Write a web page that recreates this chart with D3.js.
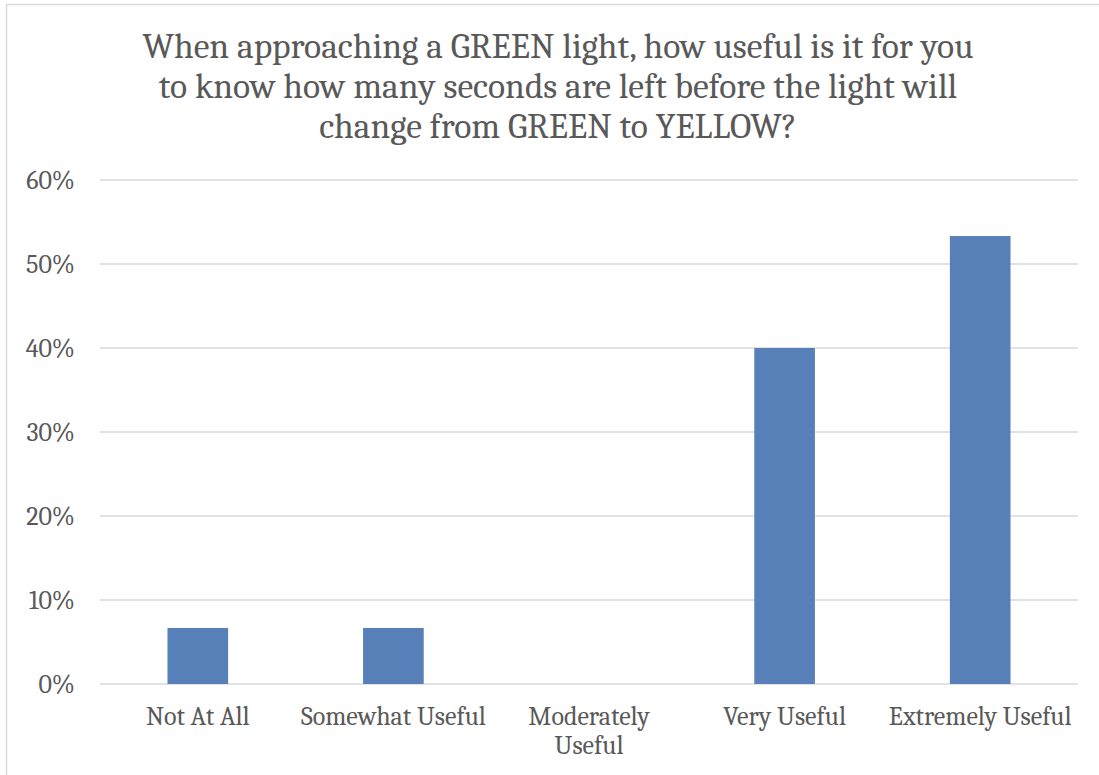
<!DOCTYPE html>
<html><head><meta charset="utf-8">
<script src="https://cdn.jsdelivr.net/npm/d3@7"></script>
<style>
html,body{margin:0;padding:0;background:#fff;}
svg{display:block;}
</style></head>
<body>
<script>
const categories = ["Not At All", "Somewhat Useful", "Moderately Useful", "Very Useful", "Extremely Useful"];
const values = [0.0667, 0.0667, 0, 0.40, 0.5333];
const yTicks = [0, 0.1, 0.2, 0.3, 0.4, 0.5, 0.6];
const titleLines = ["When approaching a GREEN light, how useful is it for you", "to know how many seconds are left before the light will", "change from GREEN to YELLOW?"];
const categoryLines = [["Not At All"], ["Somewhat Useful"], ["Moderately", "Useful"], ["Very Useful"], ["Extremely Useful"]];

const W = 1099, H = 775;
const font = "Cambria, 'Liberation Serif', 'DejaVu Serif', serif";
const textColor = "#595959";
const svg = d3.select("body").append("svg").attr("width", W).attr("height", H);

svg.append("rect").attr("x", 6.5).attr("y", 4.5).attr("width", W + 10).attr("height", H + 10)
  .attr("fill", "#fff").attr("stroke", "#d9d9d9").attr("stroke-width", 1.5);

const x = d3.scaleBand().domain(categories).range([100, 1078]).paddingInner(0.69).paddingOuter(0.345);
const y = d3.scaleLinear().domain([0, 0.6]).range([684, 180]);

svg.append("g").selectAll("line").data(yTicks).join("line")
  .attr("x1", 100).attr("x2", 1078)
  .attr("y1", d => y(d)).attr("y2", d => y(d))
  .attr("stroke", "#d9d9d9").attr("stroke-width", 1.5);

svg.append("g").selectAll("text").data(yTicks).join("text")
  .attr("x", 75).attr("y", d => y(d)).attr("dy", "0.35em")
  .attr("text-anchor", "end").attr("font-family", font).attr("font-size", 26).attr("fill", textColor)
  .text(d3.format(".0%"));

svg.append("g").selectAll("rect").data(values).join("rect")
  .attr("x", (d, i) => x(categories[i])).attr("width", x.bandwidth())
  .attr("y", d => y(d)).attr("height", d => y(0) - y(d))
  .attr("fill", "#5880B8");

const xl = svg.append("g").selectAll("text").data(categories).join("text")
  .attr("x", d => x(d) + x.bandwidth() / 2).attr("y", 725)
  .attr("text-anchor", "middle").attr("font-family", font).attr("font-size", 26).attr("fill", textColor);
xl.each(function(d, i) {
  d3.select(this).selectAll("tspan").data(categoryLines[i]).join("tspan")
    .attr("x", x(d) + x.bandwidth() / 2).attr("dy", (t, j) => j === 0 ? 0 : 29).text(t => t);
});

svg.append("g").selectAll("text").data(titleLines).join("text")
  .attr("x", 558).attr("y", (d, i) => 58 + i * 40)
  .attr("text-anchor", "middle").attr("font-family", font).attr("font-size", 35.5).attr("fill", textColor)
  .text(d => d);
</script>
</body></html>
